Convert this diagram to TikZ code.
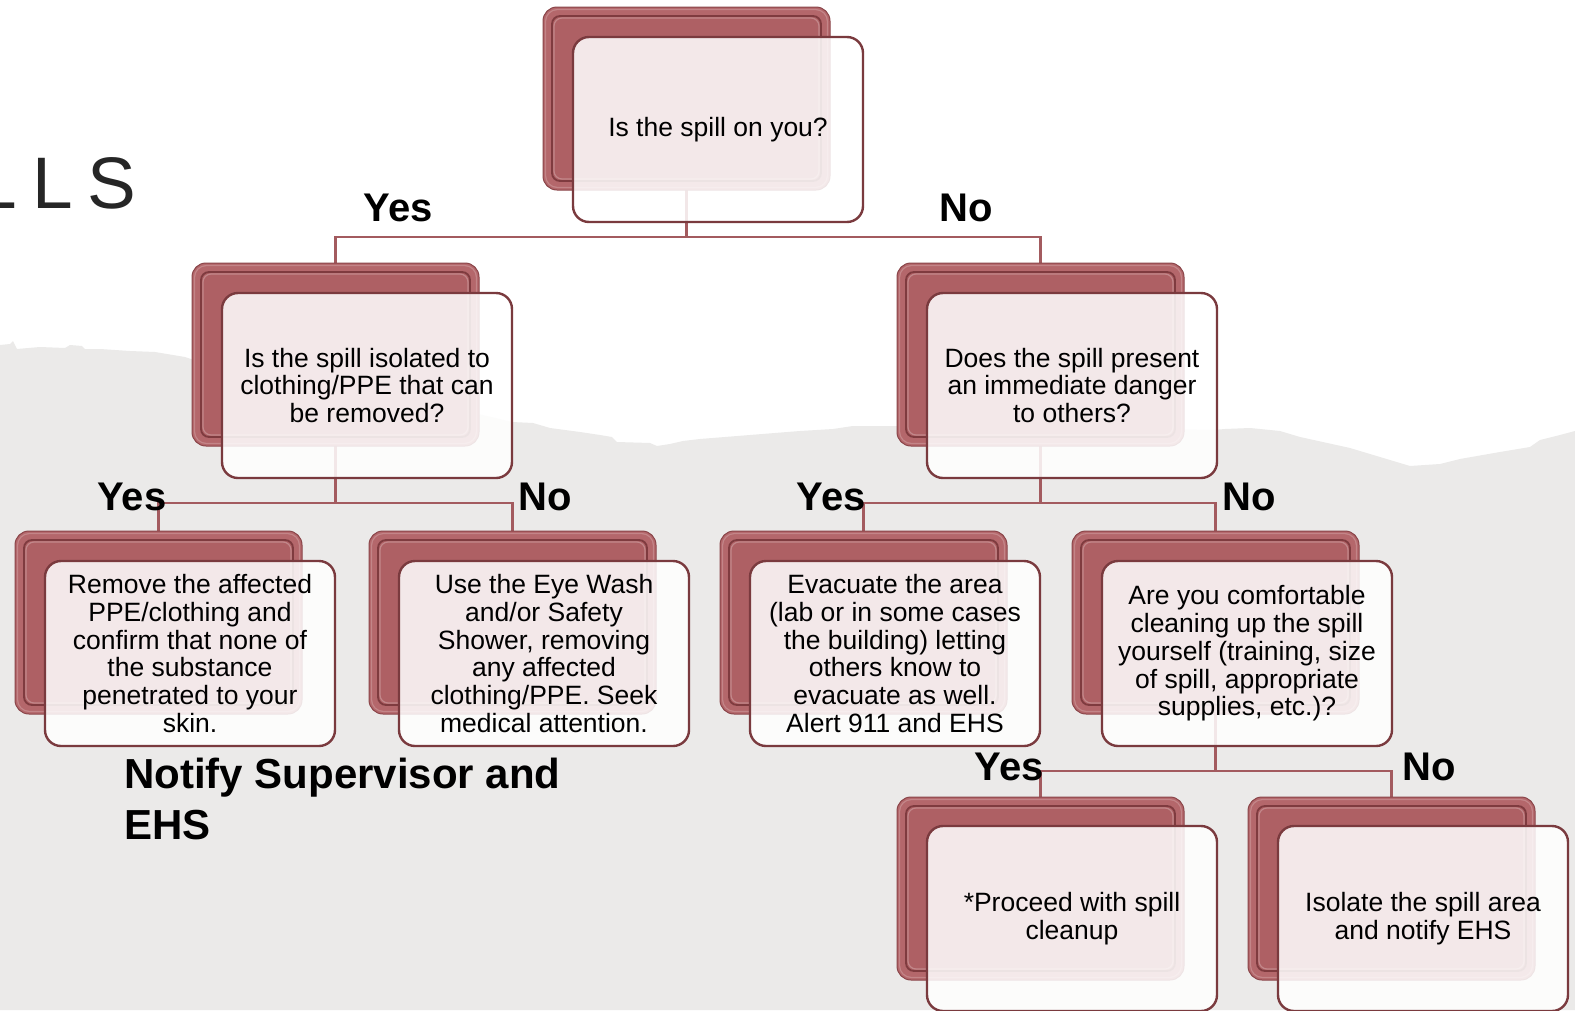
\documentclass[tikz,border=0pt]{standalone}
\usepackage{fontspec}
\setmainfont{Liberation Sans}
\usetikzlibrary{calc}
\definecolor{bggray}{HTML}{EBEAE9}
\definecolor{rimc}{HTML}{B4676B}
\definecolor{facec}{HTML}{AE6064}
\definecolor{groovec}{HTML}{7F3B3F}
\definecolor{edgec}{HTML}{8A4549}
\definecolor{frontdraw}{HTML}{7A3A3E}
\definecolor{connc}{HTML}{A35B5F}
\definecolor{titlec}{HTML}{262626}
\pgfdeclarelayer{bgl}
\pgfdeclarelayer{connl}
\pgfsetlayers{bgl,connl,main}
\begin{document}
\begin{tikzpicture}[x=1pt,y=-1pt,
  backbox/.style={rectangle, rounded corners=14pt, minimum width=287pt, minimum height=183pt,
    inner sep=0pt, outer sep=0pt, fill=rimc, draw=edgec, line width=1pt, anchor=north west,
    path picture={
      \fill[facec, rounded corners=8pt]
        ([shift={(9pt,-9pt)}]path picture bounding box.north west) rectangle
        ([shift={(-9pt,9pt)}]path picture bounding box.south east);
      \draw[white, opacity=0.25, line width=1.2pt, rounded corners=8pt]
        ([shift={(11pt,-11pt)}]path picture bounding box.north west) rectangle
        ([shift={(-11pt,11pt)}]path picture bounding box.south east);
      \draw[groovec, line width=1.8pt, rounded corners=8pt]
        ([shift={(9pt,-9pt)}]path picture bounding box.north west) rectangle
        ([shift={(-9pt,9pt)}]path picture bounding box.south east);
      \draw[white, opacity=0.2, line width=1.2pt, rounded corners=12pt]
        ([shift={(2.5pt,-2.5pt)}]path picture bounding box.north west) rectangle
        ([shift={(-2.5pt,2.5pt)}]path picture bounding box.south east);
    }},
  frontbox/.style={rectangle, rounded corners=16pt, minimum width=290pt, minimum height=185pt,
    inner sep=0pt, outer sep=0pt, fill=white, fill opacity=0.86, text opacity=1, draw opacity=1,
    draw=frontdraw, line width=2.4pt, anchor=north west, align=center, text=black,
    font=\fontsize{26.5}{27.7}\selectfont},
  conn/.style={draw=connc, line width=2.5pt},
  lbl/.style={inner sep=0pt, anchor=base, font=\fontsize{40}{48}\selectfont\bfseries, text=black},
  note/.style={inner sep=0pt, anchor=north west, align=left, font=\fontsize{42}{50.5}\selectfont\bfseries, text=black},
  titlestyle/.style={inner sep=0pt, anchor=base west, font=\fontsize{73}{80}\selectfont, text=titlec}
]
\useasboundingbox (0,0) rectangle (1575,1010);
\clip (0,0) rectangle (1575,1010);
\begin{pgfonlayer}{bgl}
\fill[white] (0,0) rectangle (1575,1010);
\fill[bggray] (0,345) -- (10,344) -- (13,341) -- (17,349) -- (40,347) -- (65,348) -- (70,345)
  -- (82,346) -- (85,349) -- (100,349) -- (130,351) -- (155,352) -- (185,357) -- (200,362)
  -- (260,375) -- (330,390) -- (400,400) -- (470,412) -- (512,422) -- (533,423) -- (550,428)
  -- (580,432) -- (600,435) -- (612,437) -- (617,442) -- (650,443) -- (657,446) -- (670,444)
  -- (683,441) -- (700,439) -- (750,435) -- (800,431) -- (833,429) -- (853,426) -- (893,426)
  -- (960,427) -- (1050,428) -- (1150,429) -- (1213,430) -- (1225,429) -- (1250,428)
  -- (1280,431) -- (1300,437) -- (1350,448) -- (1390,460) -- (1410,466) -- (1440,464)
  -- (1460,459) -- (1500,452) -- (1530,447) -- (1540,440) -- (1560,435) -- (1575,431)
  -- (1575,1010) -- (0,1010) -- cycle;
\end{pgfonlayer}

\node[titlestyle] (title) at (-23.6,208) {L\kern15pt L\kern15pt S};

% back boxes
\node[backbox] (b1) at (543,7) {};
\node[backbox] (b2) at (192,263) {};
\node[backbox] (b3) at (897,263) {};
\node[backbox] (b4) at (15,531) {};
\node[backbox] (b5) at (369,531) {};
\node[backbox] (b6) at (720,531) {};
\node[backbox] (b7) at (1072,531) {};
\node[backbox] (b8) at (897,797) {};
\node[backbox] (b9) at (1248,797) {};

% front boxes
\node[frontbox] (f1) at (573,37) {Is the spill on you?};
\node[frontbox] (f2) at (222,293) {Is the spill isolated to\\clothing/PPE that can\\be removed?};
\node[frontbox] (f3) at (927,293) {Does the spill present\\an immediate danger\\to others?};
\node[frontbox] (f4) at (45,561) {Remove the affected\\PPE/clothing and\\confirm that none of\\the substance\\penetrated to your\\skin.};
\node[frontbox] (f5) at (399,561) {Use the Eye Wash\\and/or Safety\\Shower, removing\\any affected\\clothing/PPE. Seek\\medical attention.};
\node[frontbox] (f6) at (750,561) {Evacuate the area\\(lab or in some cases\\the building) letting\\others know to\\evacuate as well.\\Alert 911 and EHS};
\node[frontbox] (f7) at (1102,561) {Are you comfortable\\cleaning up the spill\\yourself (training, size\\of spill, appropriate\\supplies, etc.)?};
\node[frontbox] (f8) at (927,826) {*Proceed with spill\\cleanup};
\node[frontbox] (f9) at (1278,826) {Isolate the spill area\\and notify EHS};

% junction coordinates
\coordinate (j1) at (686,237);
\coordinate (j2) at (335,503);
\coordinate (j3) at (1040,503);
\coordinate (j4) at (1215,771);

\begin{pgfonlayer}{connl}
\draw[conn] (b1.south) -- (j1 -| b1.south);
\draw[conn] (b2.north) |- (j1 -| b3.north) -- (b3.north);
\draw[conn] (b2.south) -- (j2 -| b2.south);
\draw[conn] (b4.north) |- (j2 -| b5.north) -- (b5.north);
\draw[conn] (b3.south) -- (j3 -| b3.south);
\draw[conn] (b6.north) |- (j3 -| b7.north) -- (b7.north);
\draw[conn] (b7.south) -- (j4 -| b7.south);
\draw[conn] (b8.north) |- (j4 -| b9.north) -- (b9.north);
\end{pgfonlayer}

% labels
\node[lbl] (y1) at (398,221) {Yes};
\node[lbl] (n1) at (966,221) {No};
\node[lbl] (y2) at (132,510) {Yes};
\node[lbl] (n2) at (545,510) {No};
\node[lbl] (y3) at (831,510) {Yes};
\node[lbl] (n3) at (1249,510) {No};
\node[lbl] (y4) at (1009,780) {Yes};
\node[lbl] (n4) at (1429,780) {No};
\node[note] (notify) at (124,758) {Notify Supervisor and\\EHS};
\end{tikzpicture}
\end{document}
